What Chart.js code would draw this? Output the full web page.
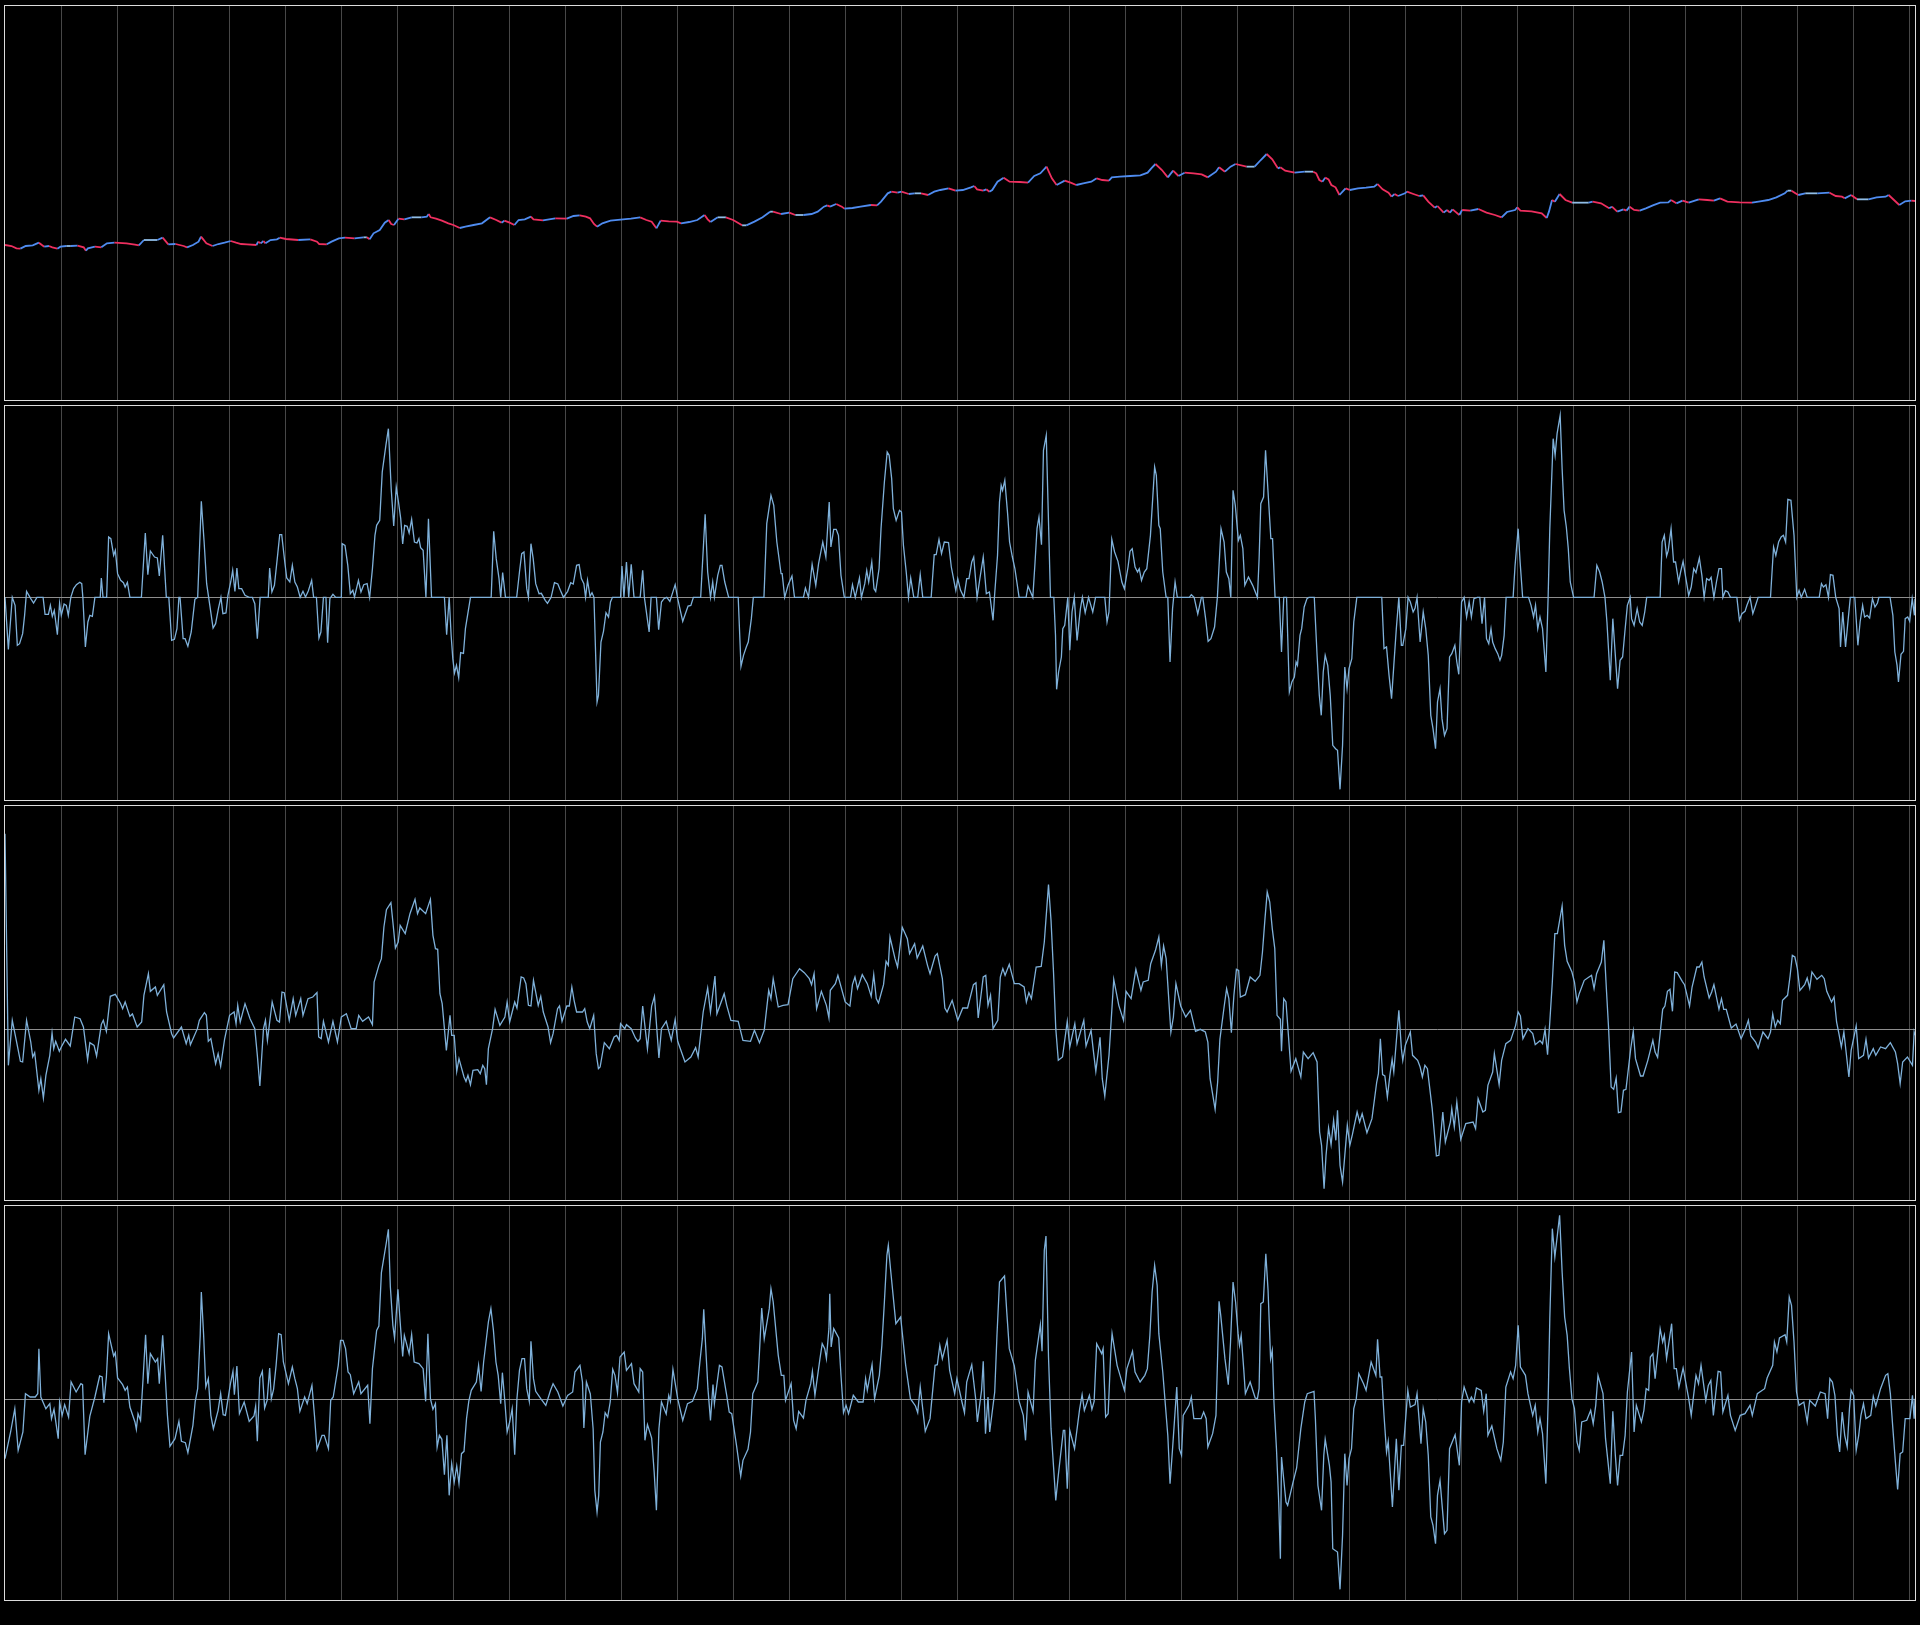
<!DOCTYPE html>
<html>
<head>
<meta charset="utf-8">
<script src="https://cdn.jsdelivr.net/npm/chart.js@4/dist/chart.umd.min.js"></script>
<style>
html,body{margin:0;padding:0;background:#000;width:1920px;height:1625px;overflow:hidden;font-family:"DejaVu Sans",sans-serif}
.panel{position:absolute;left:4px;width:1910px;height:394px;border:1px solid #dcdcdc;background:#000}
.panel canvas{display:block}
</style>
</head>
<body>
<div class="panel" style="top:5px"><canvas id="c1" width="1910" height="394" style="width:1910px;height:394px"></canvas></div>
<div class="panel" style="top:405px"><canvas id="c2" width="1910" height="394" style="width:1910px;height:394px"></canvas></div>
<div class="panel" style="top:805px"><canvas id="c3" width="1910" height="394" style="width:1910px;height:394px"></canvas></div>
<div class="panel" style="top:1205px"><canvas id="c4" width="1910" height="394" style="width:1910px;height:394px"></canvas></div>
<script>
// x = sample index (0..682), gridline every 20 samples
const SAMPLE_MAX = 682;
const GRID_STEP = 20;

// Panel 1: price line, [sample, value]
const priceSeries = [
[0,465],[2.3,462],[4.1,455],[5.5,454],[7.4,462],[9.9,464],[12.1,472],[14.0,460],[15.7,462],[16.9,458],[18.7,454],[19.8,460],[21.9,462],[23.5,462],[25.9,463],[28.1,458],[28.9,448],[29.6,455],[32.1,460],[34.4,458],[36.4,470],[39.1,472],[43.4,470],[46.4,466],[47.8,464],[49.6,480],[51.9,480],[54.4,480],[56.3,487],[58.3,467],[60.9,468],[63.8,462],[65.0,458],[67.1,465],[69.1,475],[70.0,490],[71.9,470],[74.1,462],[76.2,468],[78.4,472],[80.6,477],[82.5,472],[84.3,468],[86.4,467],[89.8,465],[90.4,475],[91.3,470],[92.3,477],[93.0,470],[94.8,480],[97.1,482],[98.1,487],[100.3,483],[104.7,480],[109.0,482],[111.4,475],[112.2,468],[114.9,467],[116.6,475],[119.2,485],[121.4,487],[124.8,485],[128.0,488],[129.2,488],[130.2,482],[131.6,500],[133.8,510],[135.6,532],[137.0,540],[137.9,528],[138.9,525],[140.5,544],[142.6,542],[145.2,548],[148.7,548],[150.6,550],[151.3,558],[152.0,548],[153.9,544],[156.0,538],[158.3,530],[160.1,525],[162.4,516],[164.4,520],[167.3,525],[170.3,530],[173.2,548],[175.4,540],[177.3,532],[178.3,538],[180.2,532],[181.9,525],[183.4,540],[185.6,542],[187.8,550],[188.7,542],[192.1,539],[196.5,545],[200.6,544],[203.0,552],[205.2,554],[207.4,550],[208.9,545],[210.3,528],[211.4,520],[213.3,530],[216.2,538],[219.8,541],[223.5,544],[226.8,548],
[229.0,540],[230.9,535],[232.6,515],[234.1,538],[237.0,536],[239.9,535],[241.4,530],[244.3,534],[247.2,540],[249.8,555],[250.9,542],[251.9,534],[254.5,548],[257.4,548],[260.0,540],[263.2,524],[264.7,524],[267.6,535],[270.5,548],[273.2,565],[274.2,565],[277.1,558],[280.0,562],[282.2,555],[285.1,555],[288.0,558],[290.2,565],[292.4,580],[293.6,584],[294.6,580],[296.8,588],[298.8,580],[299.7,574],[302.6,576],[305.5,580],[309.2,585],[311.4,584],[312.8,595],[315.2,620],[316.5,625],[318.7,622],[320.1,625],[322.7,618],[324.8,620],[327.1,620],[329.6,615],[331.8,625],[334.0,630],[336.9,635],[339.4,628],[342.0,630],[344.9,638],[346.1,642],[347.1,632],[349.3,628],[350.4,632],[351.5,625],[352.5,630],[354.4,655],[356.6,667],[358.7,655],[362.4,654],[365.3,652],[367.5,672],[369.7,680],[371.9,700],[373.8,665],[375.5,645],[378.4,658],[380.5,652],[382.5,645],[385.0,650],[387.9,655],[389.8,665],[391.8,660],[394.2,658],[395.2,668],[398.1,670],[401.8,672],[405.4,674],[408.0,682],[409.3,695],[410.8,708],[413.1,690],[415.2,668],[417.1,688],[419.0,672],[421.2,682],[424.4,680],[427.3,677],[429.5,668],[432.4,685],[433.5,698],[435.6,685],[437.6,700],[439.4,708],[443.3,700],[446.2,700],[448.4,720],[450.5,738],[452.5,722],[454.5,695],
[455.4,698],[457.1,688],[460.5,682],[464.1,685],[467.1,685],[468.2,680],[469.3,660],[470.4,655],[471.4,667],[472.6,662],[473.6,645],[475.1,638],[476.5,615],[477.6,625],[478.7,635],[480.2,630],[483.1,635],[486.0,637],[488.9,640],[490.1,648],[491.9,632],[494.0,622],[495.1,610],[496.2,618],[497.4,612],[499.9,620],[500.6,625],[502.9,618],[505.0,612],[506.4,614],[508.2,595],[510.5,577],[511.5,582],[513.7,562],[514.9,570],[515.9,562],[516.9,572],[519.3,555],[520.3,570],[523.2,568],[526.1,573],[529.0,562],[532.0,555],[534.4,548],[536.3,564],[539.2,570],[540.0,578],[541.1,568],[545.1,566],[548.7,560],[550.5,546],[551.3,565],[552.4,600],[553.4,595],[555.1,618],[557.2,600],[559.6,592],[562.6,592],[565.5,592],[566.9,595],[569.9,590],[572.8,575],[573.8,580],[575.7,565],[577.9,572],[579.0,568],[580.1,580],[581.7,570],[583.7,568],[585.9,575],[588.4,584],[591.0,592],[593.9,593],[594.9,600],[596.8,590],[599.0,598],[601.2,592],[603.4,598],[604.8,602],[607.8,600],[610.2,598],[612.4,605],[615.0,595],[619.4,593],[623.8,592],[626.7,596],[629.6,600],[632.5,608],[635.5,620],[636.5,628],[637.9,628],[640.3,615],[642.8,620],[647.1,620],[651.5,622],[653.7,612],[655.9,610],[656.9,605],[659.2,615],[661.3,602],[665.4,602],[668.3,608],[671.5,610],[672.6,615],[674.5,600],[676.4,585],[678.5,596],[680.7,598],[682.0,597]
];

// Panel 2: clipped momentum
const momentumSeries = [
[0,0],[1.2,-156],[2.6,0],[3.6,-24],[4.4,-144],[5.2,-139],[6.3,-109],[7.0,-54],[7.7,18],[9.2,-4],[10.2,-17],[11.4,0],[13.6,0],[14.3,-51],[15.5,-51],[16.2,-24],[16.9,-57],[17.6,-39],[18.7,-112],[19.5,-17],[20.1,-54],[21.1,-20],[21.9,-24],[22.6,-54],[23.5,0],[24.5,26],[25.5,38],[26.7,45],[27.4,41],[27.8,0],[28.7,-149],[29.6,-74],[30.3,-54],[31.2,-57],[32.1,0],[34.0,0],[34.4,58],[35.0,0],[36.3,0],[37.0,181],[37.8,176],[38.8,126],[39.4,141],[40.2,71],[41.3,51],[42.3,44],[42.9,31],[43.7,45],[44.6,0],[48.7,0],[50.1,193],[51.0,68],[51.9,139],[53.4,121],[54.4,118],[55.1,64],[56.3,186],[57.6,0],[58.5,0],[59.5,-129],[60.5,-126],[61.4,-94],[62.1,0],[62.5,0],[63.6,-124],[64.3,-124],[65.3,-147],[66.5,-104],[67.8,-6],[68.8,0],[70.1,288],[71.1,166],[72.0,41],[73.3,-34],[74.3,-92],[75.2,-79],[76.2,-34],[77.1,0],[77.8,-49],[78.9,-47],[79.6,6],[80.6,46],[81.3,81],[82.1,18],[82.8,88],[83.5,26],[84.5,26],[85.7,6],[87.2,0],[88.3,0],[89.2,-19],[90.1,-124],[91.1,0],[94.0,0],[94.5,88],[95.3,16],[96.2,36],[97.4,131],[98.1,188],[98.8,188],[99.9,106],[100.6,58],[101.7,46],[102.6,96],[103.5,46],[104.4,31],[105.4,0],[106.4,18],[107.3,1],[108.3,19],[109.5,51],[110.2,0],[111.2,0],[112.1,-122],[112.8,-104],[113.7,0],[114.6,0],[115.2,-136],[116.0,-4],[117.1,9],[118.1,0],[120.1,0],[120.4,161],[121.4,156],[122.4,96],[123.3,11],[124.2,21],[124.8,1],[126.2,51],[127.1,16],[128.1,38],[129.3,41],[130.2,0],[131.2,86],[132.1,186],[132.7,216],[133.8,231],[134.7,376],[136.0,456],[136.9,506],[137.9,326],[138.8,214],[139.7,331],[140.5,286],[141.3,236],[142.0,160],[142.7,216],[143.6,213],[144.3,193],[145.2,234],[146.2,166],[147.1,163],[147.8,176],[148.4,149],[149.3,141],[150.3,0],[151.2,236],[152.3,0],[156.9,0],[157.7,-112],[158.6,0],[159.3,-114],[159.9,-184],[160.5,-227],[161.2,-204],[162.0,-241],[162.7,-166],[163.7,-168],[164.4,-94],[166.2,0],[173.6,0],[174.5,198],[175.4,116],[176.4,56],[177.0,0],[177.7,74],[178.7,0],[182.7,0],[183.7,76],[184.5,131],[185.3,136],[186.3,26],[186.9,0],[187.8,161],[188.6,116],[189.5,41],[190.7,11],[191.5,12],[192.9,-9],[193.7,-18],[195.0,0],[196.2,44],[197.4,40],[198.3,21],[199.4,0],[200.9,18],[202.0,44],[202.9,40],[204.1,96],[205.0,98],[205.8,56],[206.7,41],[207.3,0],[208.0,51],[208.9,3],[209.6,14],[210.3,0],[211.4,-314],[211.9,-294],[212.8,-134],[213.7,-102],[214.6,-46],[215.5,-59],[216.2,-14],[216.9,0],[219.8,0],[220.3,94],[221.0,0],[221.9,106],[222.7,0],[223.6,99],[224.6,0],[226.8,0],
[227.7,81],[228.3,0],[230.0,-104],[230.7,0],[232.6,0],[233.4,-97],[234.4,-14],[235.3,-4],[236.3,0],[237.4,-12],[239.3,38],[240.2,-4],[242.0,-72],[243.9,-26],[244.9,-24],[245.8,0],[248.4,0],[250.0,249],[250.9,76],[251.9,0],[252.7,46],[253.3,0],[254.5,66],[255.4,96],[256.0,96],[257.0,46],[258.4,0],[261.8,0],[262.8,-207],[263.7,-174],[264.7,-149],[265.4,-134],[266.5,-64],[267.2,0],[271.0,0],[272.0,221],[273.5,306],[274.5,276],[275.6,166],[277.1,71],[277.5,71],[278.4,0],[279.6,36],[281.0,64],[281.9,0],[285.1,0],[285.8,28],[286.9,0],[288.2,99],[289.5,36],[290.5,101],[292.0,166],[293.1,121],[294.3,286],[294.9,151],[295.9,204],[296.8,204],[297.6,186],[298.5,66],[299.7,0],[301.9,0],[302.6,38],[303.6,0],[305.1,58],[305.8,0],[307.0,41],[307.7,81],[308.4,46],[309.5,106],[310.3,26],[310.9,18],[312.1,86],[312.8,206],[314.0,346],[315.0,436],[315.7,426],[316.6,356],[317.2,266],[318.2,231],[319.4,261],[320.1,256],[320.8,156],[321.8,76],[322.6,0],[323.4,58],[324.5,0],[325.9,0],[326.8,68],[327.7,0],[330.7,0],[331.8,128],[332.5,128],[333.5,174],[334.4,131],[335.4,166],[336.9,164],[337.9,91],[339.1,38],[339.5,21],[340.2,56],[341.2,21],[342.4,0],[343.4,56],[344.2,56],[345.2,106],[345.9,121],[347.1,0],[348.1,56],[349.3,121],[350.4,11],[351.5,16],[352.8,-69],[353.3,0],[354.4,126],[355.1,286],[355.7,336],[356.2,321],[357.0,351],[358.0,251],[358.7,166],[359.7,121],[360.6,86],[362.1,0],[364.6,0],[365.3,34],[367.0,0],[367.8,106],[368.5,206],[369.2,241],[370.1,158],[370.8,441],[371.8,486],[373.3,0],[374.5,0],[375.1,-114],[375.5,-276],[376.2,-224],[377.2,-179],[377.7,-94],[378.4,-84],[379.5,0],[380.2,-159],[381.0,-44],[381.8,0],[382.8,-129],[384.0,-34],[384.7,0],[385.7,-46],[386.9,0],[388.4,-44],[389.4,0],[392.7,0],[393.5,-74],[394.2,-44],[395.2,174],[396.2,136],[397.4,108],[398.8,46],[399.7,26],[401.0,91],[401.7,138],[402.5,146],[403.5,91],[404.4,76],[405.0,86],[405.8,51],[406.8,76],[407.7,86],[409.0,186],[410.5,391],[411.1,366],[412.0,216],[412.5,206],[413.4,76],[414.6,0],[415.2,0],[416.0,-194],[416.9,-34],[417.8,46],[418.6,0],[422.9,0],[423.6,8],[424.6,0],[425.9,-50],[427.2,0],[427.7,0],[428.7,-64],[429.6,-132],[430.6,-124],[431.9,-89],[432.9,0],[434.2,206],[435.3,166],[436.1,76],[437.0,56],[437.7,0],[438.5,321],[439.3,276],[440.4,171],[441.1,186],[442.0,146],[442.7,36],[444.0,61],[445.5,36],[447.2,0],[447.8,116],[448.4,281],[449.4,301],[450.1,441],[452.0,176],[452.6,176],[453.5,0],[455.0,0],
[455.8,-164],[456.6,0],[457.6,0],[458.6,-284],[459.5,-254],[460.4,-239],[461.0,-194],[461.5,-204],[462.4,-114],[463.0,-94],[463.9,-29],[464.9,-4],[465.6,0],[467.5,0],[468.5,-174],[469.3,-294],[470.0,-354],[470.7,-224],[471.4,-174],[472.3,-204],[473.2,-294],[474.1,-444],[475.1,-454],[475.8,-459],[476.7,-576],[477.6,-444],[478.4,-209],[479.2,-274],[479.9,-214],[480.9,-184],[481.6,-74],[482.7,0],[491.6,0],[492.4,-154],[493.3,-149],[494.2,-234],[495.1,-304],[495.9,-204],[496.8,-94],[497.7,0],[498.6,-144],[499.1,-144],[500.2,-94],[501.0,0],[501.8,-14],[502.8,-44],[503.5,-32],[504.2,0],[505.3,-134],[506.4,-44],[507.3,-94],[508.2,-174],[509.1,-354],[509.9,-394],[510.8,-454],[511.5,-314],[512.4,-274],[513.1,-364],[514.0,-414],[514.9,-394],[515.8,-179],[516.6,-169],[517.7,-144],[518.4,-194],[519.1,-231],[520.1,-14],[521.0,0],[521.9,-59],[522.8,-14],[523.6,-59],[524.5,-4],[525.7,0],[526.6,0],[527.4,-79],[528.3,0],[529.0,-124],[529.8,-139],[530.6,-94],[531.2,-134],[532.1,-154],[533.0,-169],[533.8,-189],[534.4,-174],[535.3,-114],[536.0,0],[538.5,0],[539.2,96],[540.3,206],[541.0,106],[541.9,0],[544.0,0],[544.9,-24],[545.8,-59],[546.5,-24],[547.3,-94],[548.1,-59],[549.0,-94],[550.2,-224],[551.0,0],[551.6,206],[552.8,476],[553.5,426],[554.2,491],[555.3,546],[556.0,386],[556.7,261],[557.5,211],[558.2,146],[558.9,46],[560.1,0],[567.4,0],[568.4,96],[569.4,76],[570.3,46],[571.3,0],[572.0,-74],[573.2,-249],[574.1,-64],[575.0,-174],[575.8,-274],[576.7,-189],[577.6,-179],[578.4,-104],[579.3,-24],[580.3,0],[580.8,-64],[581.7,-84],[582.8,-34],[583.7,-74],[584.6,-84],[585.5,-44],[586.2,0],[591.0,0],[591.7,166],[592.5,186],[593.3,124],[593.9,141],[594.9,206],[595.8,106],[596.5,106],[597.6,46],[598.3,76],[599.2,108],[600.2,56],[601.2,6],[602.1,31],[603.0,86],[603.8,74],[605.0,118],[605.9,66],[606.7,0],[607.6,56],[608.5,51],[609.2,60],[610.2,0],[611.1,46],[612.0,86],[612.9,86],[613.4,0],[614.3,20],[615.2,16],[616.1,0],[618.4,0],[619.3,-69],[620.2,-49],[621.3,-42],[622.0,-24],[623.1,0],[624.1,-49],[625.0,-26],[626.0,0],[630.4,0],[631.5,151],[632.3,126],[633.3,166],[634.2,181],[635.0,186],[635.8,166],[636.6,294],[637.7,291],[638.8,186],[639.8,0],[640.6,21],[641.4,0],[642.6,24],[643.5,0],[647.8,0],[648.6,41],[649.3,31],[650.2,38],[651.1,0],[651.8,68],[652.7,66],[653.7,0],[654.9,-34],[655.4,-149],[656.2,-44],[657.2,-149],[658.1,-69],[658.9,0],[660.5,0],[661.6,-144],[662.4,-74],[663.3,-24],[664.0,-59],[664.9,-54],[665.8,-62],[666.8,-4],[667.7,-29],[668.6,-17],[669.1,0],[673.1,0],[674.1,-54],[674.8,-164],[675.6,-204],[676.1,-254],[677.0,-171],[677.9,-162],[678.5,-64],[679.4,-59],[680.1,-72],[681.0,-4],[681.8,-54],[682.0,-4]
];

// Panel 3: smoothed oscillator
const oscillatorSeries = [
[0,587],[1.2,-108],[2.6,27],[4.1,-36],[5.5,-96],[6.3,-98],[7.7,27],[9.2,-38],[9.9,-83],[10.6,-70],[12.1,-183],[12.8,-148],[13.7,-206],[14.6,-138],[16.0,-78],[16.8,-11],[17.4,-58],[18.1,-36],[19.4,-66],[20.1,-53],[21.6,-30],[23.3,-50],[24.9,37],[26.8,32],[28.0,7],[29.5,-91],[30.3,-40],[31.8,-48],[32.7,-80],[34.4,15],[35.1,27],[36.2,-6],[37.6,99],[39.4,105],[41.3,77],[42.0,62],[42.9,82],[44.6,39],[45.5,46],[47.2,7],[48.8,22],[49.6,102],[51.2,167],[51.9,114],[53.7,127],[54.4,102],[56.7,134],[57.7,52],[59.5,-13],[60.2,-26],[63.0,7],[64.7,-43],[65.6,-18],[66.2,-46],[68.7,2],[69.4,27],[71.2,50],[71.9,42],[72.6,-36],[73.5,-28],[75.2,-103],[76.1,-73],[77.0,-111],[78.4,-30],[80.2,42],[81.8,52],[82.5,17],[83.1,72],[84.0,22],[85.7,77],[87.5,32],[89.2,2],[90.1,-78],[91.0,-170],[92.3,2],[93.0,27],[93.7,-33],[95.4,82],[97.1,27],[98.0,22],[98.9,112],[99.7,110],[101.5,27],[102.9,92],[103.8,42],[105.6,92],[106.4,42],[108.2,92],[109.9,97],[111.4,110],[112.0,-23],[112.9,-28],[113.7,24],[115.5,-38],[117.1,24],[118.7,-38],[120.1,37],[121.9,47],[123.6,2],[125.4,2],[126.3,42],[127.7,24],[129.8,37],[131.2,14],[131.8,142],[133.5,192],[134.4,212],[135.3,307],[136.2,359],[137.8,380],[138.5,322],[139.4,244],[140.4,262],[141.1,312],[142.9,287],[144.6,347],[146.4,390],[147.3,347],[148.1,364],[150.2,347],[151.9,390],[152.8,282],[153.7,242],[154.5,240],[155.3,107],[156.1,77],[157.6,-63],[158.9,42],[159.5,-18],[160.4,-18],[161.3,-126],[162.1,-88],[163.9,-143],[164.6,-156],[165.3,-138],[166.2,-166],[167.1,-123],[168.8,-121],[169.7,-133],[170.6,-108],[171.3,-118],[171.9,-166],[172.6,-58],[174.1,2],[175.0,60],[176.7,12],[178.5,37],[179.3,82],[180.2,22],[182.0,82],[182.8,64],[183.4,102],[184.3,157],[185.2,154],[186.0,137],[186.9,72],[187.8,70],[188.7,147],[190.4,72],[191.3,99],[192.2,52],[193.9,7],[194.8,-40],[195.7,-13],[197.3,62],[198.0,70],[198.9,24],[200.6,70],[201.5,70],[202.4,127],[203.2,87],[204.1,52],[206.2,52],[207.0,62],[207.9,22],[208.8,2],[210.2,42],[211.1,-73],[211.9,-118],[212.5,-113],[214.0,-40],[215.8,-58],[217.5,-23],[218.4,-18],[219.3,-33],[219.8,17],[221.3,2],[221.9,14],[223.6,2],[225.1,-26],[226.0,-36],[226.8,-28],
[227.7,70],[229.4,-58],[230.9,70],[231.9,99],[233.5,-86],[234.4,2],[236.1,24],[237.9,-33],[239.3,30],[240.2,-36],[242.8,-98],[244.9,-83],[246.6,-55],[247.5,-83],[249.3,52],[250.9,124],[251.9,52],[253.5,160],[254.2,47],[256.8,107],[257.7,72],[259.2,27],[261.8,24],[263.5,-33],[266.2,-36],[267.6,-3],[269.4,-40],[271.1,-3],[272.7,117],[273.5,92],[274.3,152],[276.1,67],[277.8,72],[279.6,74],[281.3,152],[283.7,182],[285.4,170],[287.2,152],[288.0,134],[288.9,167],[289.8,62],[291.5,114],[293.3,72],[294.2,34],[294.7,117],[296.5,137],[297.4,162],[300.0,82],[301.7,70],[302.6,134],[303.5,157],[304.4,122],[306.1,164],[307.9,137],[309.3,99],[310.2,164],[311.1,92],[311.9,79],[313.7,134],[314.6,204],[315.4,192],[316.0,277],[317.8,212],[318.7,187],[320.4,306],[322.2,272],[323.0,227],[324.8,257],[325.7,214],[327.7,250],[329.4,192],[330.3,167],[332.1,220],[332.9,227],[334.7,152],[335.6,64],[336.4,52],[338.2,87],[340.2,27],[342.0,64],[343.7,64],[345.8,134],[346.7,140],[347.5,34],[349.3,157],[350.2,162],[351.0,72],[351.9,102],[352.8,2],[354.5,27],[355.4,157],[356.3,182],[357.1,162],[358.6,195],[360.4,137],[362.1,137],[363.9,127],[364.7,82],[365.6,110],[366.5,92],[368.2,187],[370.0,189],[371.1,262],[372.6,434],[373.5,327],[374.4,170],[375.2,2],[376.1,-93],[377.6,-83],[379.3,24],[380.2,-53],[382.0,17],[382.8,-43],[385.2,27],[386.0,-50],[387.8,-3],[388.6,-63],[389.5,-126],[391.0,-24],[391.8,-148],[392.7,-200],[394.2,-78],[395.9,150],[397.7,72],[399.4,27],[400.3,114],[402.1,92],[403.8,180],[405.6,117],[406.4,142],[408.2,147],[409.1,197],[410.8,237],[412.0,277],[412.9,192],[413.7,250],[414.6,212],[416.3,-8],[417.2,37],[418.1,137],[419.8,70],[421.6,37],[423.3,57],[425.1,-6],[426.8,0],[428.6,-8],[429.5,-38],[430.3,-148],[432.1,-240],[433.0,-158],[433.8,-30],[435.3,67],[436.2,122],[437.0,92],[437.9,-10],[438.8,102],[439.7,180],[440.5,177],[441.1,97],[442.9,104],[444.6,157],[446.4,144],[448.1,162],[449.0,232],[449.9,332],[450.7,412],[451.6,382],[452.5,302],[453.4,242],[454.2,42],[455.4,30],
[455.8,-66],[456.6,92],[457.4,82],[459.2,-126],[460.9,-88],[462.7,-143],[463.6,-68],[465.3,-88],[467.1,-70],[468.5,-98],[469.4,-308],[470.1,-348],[471.0,-478],[471.7,-378],[472.6,-296],[473.5,-346],[474.4,-273],[475.2,-333],[475.8,-243],[476.7,-408],[477.6,-458],[478.4,-378],[479.3,-288],[480.2,-348],[481.1,-316],[482.8,-248],[483.7,-278],[484.6,-253],[486.3,-310],[488.1,-268],[489.8,-158],[490.4,-133],[491.1,-28],[491.9,-136],[492.7,-140],[493.6,-203],[494.5,-138],[495.3,-90],[495.9,-128],[497.7,57],[498.6,-58],[499.1,-93],[500.0,-48],[501.8,-8],[502.6,-78],[504.4,-93],[505.3,-113],[506.1,-143],[507.0,-108],[507.9,-118],[509.6,-238],[511.1,-380],[512.0,-378],[513.4,-248],[514.3,-338],[516.1,-278],[516.6,-238],[517.5,-293],[518.4,-218],[519.8,-330],[521.6,-283],[524.2,-278],[525.1,-298],[526.0,-208],[527.7,-248],[528.6,-243],[529.5,-168],[531.2,-128],[531.8,-73],[533.5,-166],[534.4,-93],[535.9,-43],[537.6,-33],[539.4,12],[540.3,52],[541.1,40],[542.0,-28],[543.8,2],[545.5,-13],[546.4,-46],[548.1,-34],[549.0,-43],[549.9,0],[550.8,-76],[551.6,22],[552.5,142],[553.4,287],[554.3,287],[556.0,370],[556.9,252],[557.8,204],[559.5,172],[560.4,142],[561.3,82],[562.1,107],[563.9,147],[565.6,157],[566.5,162],[567.4,122],[568.3,167],[570.0,202],[570.9,267],[571.8,122],[572.6,2],[573.5,-173],[574.4,-180],[575.3,-146],[576.1,-250],[577.0,-248],[577.9,-183],[578.8,-180],[580.5,-58],[581.4,-6],[582.2,-88],[584.0,-140],[584.9,-140],[586.6,-93],[588.4,-33],[589.2,-68],[590.1,-84],[591.9,60],[592.7,70],[593.6,114],[594.5,120],[595.4,54],[596.2,172],[597.1,170],[598.9,144],[599.7,134],[601.5,70],[602.4,127],[604.1,187],[605.0,187],[605.9,202],[606.7,157],[608.5,94],[609.4,112],[610.2,134],[612.0,60],[612.9,92],[613.7,60],[614.6,60],[616.4,4],[618.1,16],[619.9,-28],[621.6,4],[622.5,27],[623.4,-20],[625.1,-38],[626.0,-56],[627.7,-8],[629.5,-28],[630.4,-8],[631.2,46],[632.1,7],[633.0,27],[633.9,17],[634.7,87],[636.5,102],[637.4,160],[638.2,222],[639.1,217],[640.0,182],[640.9,117],[642.6,134],[643.5,154],[644.4,124],[645.2,172],[647.0,150],[648.7,162],[649.6,152],[650.5,114],[652.2,82],[653.1,97],[654.0,22],[654.9,-16],[655.7,-53],[656.6,-8],[658.4,-143],[659.2,-63],[661.0,10],[661.9,-88],[663.6,-78],[664.5,-30],[665.4,-86],[667.1,-58],[668.0,-78],[669.7,-53],[671.5,-58],[673.2,-40],[675.0,-68],[675.8,-103],[676.7,-163],[677.6,-98],[679.3,-83],[681.1,-108],[681.7,-8],[682.0,-18]
];

// Panel 4: raw momentum
const signalSeries = [
[0,-178],[2.0,-98],[3.5,-28],[4.7,-153],[6.4,-98],[7.3,17],[9.0,7],[10.8,7],[11.7,17],[12.1,152],[12.8,7],[14.6,-28],[16.0,-13],[16.6,-58],[17.5,-30],[19.0,-118],[19.5,-8],[20.4,-48],[21.3,-16],[22.7,-53],[23.6,52],[25.4,22],[27.1,47],[27.7,44],[28.6,-166],[30.3,-50],[32.1,7],[33.8,70],[34.7,67],[35.3,-10],[36.2,67],[37.0,197],[38.8,130],[39.4,140],[40.2,64],[42.0,44],[42.9,27],[43.7,37],[44.6,-23],[46.4,-68],[46.9,-90],[47.5,-43],[48.4,-63],[49.3,62],[50.2,194],[51.0,47],[51.9,137],[53.7,112],[54.5,122],[55.1,47],[56.3,192],[57.2,72],[58.0,-48],[58.9,-141],[60.7,-118],[62.1,-66],[63.0,-126],[64.4,-130],[65.3,-160],[67.1,-78],[67.9,-8],[68.8,32],[69.7,192],[70.1,322],[70.9,197],[71.7,37],[72.6,62],[73.5,-48],[74.4,-88],[76.1,-33],[77.0,17],[77.9,-46],[78.7,-48],[80.5,47],[81.4,84],[81.9,14],[82.8,100],[83.7,-43],[85.4,-8],[87.2,-66],[88.9,-50],[89.5,-20],[90.1,-126],[91.0,64],[91.9,84],[92.7,-26],[93.6,-3],[94.5,94],[95.1,2],[95.9,30],[96.8,102],[97.7,197],[98.6,194],[99.4,112],[101.2,47],[102.6,97],[103.5,62],[104.4,32],[105.3,-36],[107.0,7],[107.9,-13],[109.6,42],[110.5,-48],[111.4,-150],[113.2,-108],[114.0,-108],[115.5,-148],[116.3,-3],[117.2,7],[119.0,102],[119.8,177],[120.7,177],[121.6,152],[122.5,82],[123.3,74],[124.5,17],[126.3,52],[127.1,17],[129.5,42],[130.3,-73],[131.2,92],[132.7,207],[133.5,220],[134.4,380],[136.2,472],[136.9,510],[137.6,337],[138.5,222],[139.1,184],[140.3,330],[141.1,232],[142.0,129],[142.6,192],[144.3,137],[145.2,194],[146.1,112],[147.8,107],[149.3,92],[150.2,-6],[151.0,197],[151.9,2],[152.8,-30],[153.7,-13],[154.3,-143],[155.1,-108],[156.0,-120],[156.9,-226],[157.8,-108],[158.6,-288],[159.5,-193],[160.4,-248],[161.3,-200],[162.1,-253],[163.0,-163],[163.9,-156],[164.8,-58],[165.6,-6],[166.5,27],[168.3,52],[169.1,102],[170.0,24],[170.9,112],[172.6,232],[173.5,272],[174.4,207],[175.3,112],[176.1,72],[177.0,-13],[177.6,80],[178.5,-8],[179.3,-98],[180.2,-68],[181.1,-28],[182.0,-166],[182.8,2],[183.7,87],[184.6,122],[185.5,122],[186.3,32],[187.2,-6],[187.8,174],[188.7,62],[189.5,24],[191.3,2],[193.1,-18],[194.8,27],[195.7,47],[197.4,22],[199.2,-20],[200.9,12],[202.7,22],[203.5,82],[205.3,102],[206.2,52],[206.7,-86],[207.6,52],[209.0,16],[210.0,-88],[210.6,-273],[211.4,-338],[212.0,-288],[212.6,-128],[213.5,-98],[214.3,-40],[215.2,-53],[216.1,-8],[217.0,90],[217.8,72],[218.7,20],[219.6,127],[221.1,142],[221.9,87],[223.7,107],[224.6,47],[226.3,22],[226.8,92],
[227.7,82],[228.5,-123],[229.4,-76],[230.9,-116],[231.8,-218],[232.6,-333],[233.5,-88],[234.4,-8],[236.1,-44],[237.0,12],[237.6,-6],[238.5,90],[240.2,2],[242.0,-63],[243.7,-13],[245.5,-6],[247.2,32],[248.1,110],[249.0,182],[249.5,270],[250.1,172],[251.0,32],[251.9,-63],[252.8,44],[253.3,-13],[255.1,102],[256.0,97],[257.7,12],[258.6,-38],[259.5,-43],[261.2,-138],[262.7,-230],[263.5,-183],[265.3,-150],[266.2,-98],[267.0,17],[268.8,52],[269.4,142],[270.2,274],[271.1,182],[272.9,272],[273.5,332],[274.3,292],[276.1,132],[277.2,72],[278.1,72],[278.7,-3],[280.7,47],[281.6,-63],[282.5,-88],[283.4,-36],[285.1,-56],[286.0,-3],[287.7,47],[288.3,84],[289.2,12],[291.0,122],[291.8,167],[292.7,152],[293.3,122],[294.2,212],[294.5,317],[295.0,157],[295.9,212],[297.7,184],[298.5,72],[299.4,-40],[300.3,-18],[301.2,-43],[302.9,12],[304.7,-8],[306.4,-8],[307.3,62],[307.9,27],[309.6,104],[310.5,2],[312.2,72],[313.1,162],[314.0,292],[314.9,432],[315.4,462],[316.3,382],[318.1,227],[319.8,247],[321.6,102],[323.3,2],[325.1,-20],[325.9,-40],[326.8,37],[328.6,-96],[330.3,-58],[332.1,102],[332.9,104],[333.8,162],[334.7,122],[336.4,177],[337.3,87],[339.1,17],[339.9,62],[341.7,-8],[342.6,-40],[343.4,52],[345.2,104],[346.7,-6],[347.2,-68],[348.7,27],[349.3,114],[350.1,-103],[351.0,7],[351.6,-98],[353.4,22],[354.2,192],[355.1,352],[356.9,370],[357.7,262],[358.6,152],[360.4,100],[362.1,-6],[363.6,-48],[364.4,-123],[365.3,22],[367.1,-36],[367.9,117],[369.7,224],[370.3,144],[371.1,447],[371.7,490],[372.6,127],[373.5,-88],[375.2,-303],[376.1,-228],[377.9,-93],[378.4,-93],[379.3,-268],[380.2,-93],[381.9,-148],[383.7,-30],[384.6,14],[385.4,-33],[387.2,12],[388.1,-30],[388.9,-6],[389.8,167],[391.6,137],[392.1,152],[393.0,-53],[393.9,-43],[394.8,134],[395.3,197],[397.1,102],[399.7,27],[400.6,92],[402.6,144],[403.5,82],[405.3,52],[407.0,72],[407.9,92],[408.8,192],[409.6,322],[410.5,402],[411.4,342],[412.0,197],[413.4,82],[415.2,-108],[416.0,-253],[416.9,-148],[418.4,37],[419.3,-148],[420.1,-168],[420.7,-48],[422.8,-18],[423.6,7],[424.5,-58],[427.1,-58],[428.0,-38],[428.9,-58],[429.5,-143],[431.2,-103],[432.4,-48],[433.0,132],[433.5,294],[434.1,252],[435.6,122],[436.8,44],[437.6,172],[438.5,352],[439.4,292],[440.3,197],[440.8,162],[441.4,192],[442.3,92],[442.9,17],[444.6,52],[446.4,4],[447.2,2],[447.8,32],[448.4,287],[449.3,292],[450.2,437],[451.0,327],[451.9,122],[452.5,147],[453.1,-8],[454.0,-148],[454.8,-308],[455.4,-478],
[455.8,-173],[457.4,-308],[458.0,-318],[459.8,-253],[461.2,-206],[462.7,-88],[464.1,-8],[465.0,17],[467.4,24],[467.9,-58],[468.8,-258],[470.1,-333],[470.9,-168],[471.4,-120],[472.9,-198],[473.5,-248],[474.1,-448],[475.8,-458],[476.7,-570],[477.6,-408],[478.4,-163],[479.2,-258],[479.9,-178],[480.8,-148],[481.6,-28],[482.5,2],[483.4,77],[485.1,47],[486.0,27],[487.8,112],[489.5,72],[490.1,180],[491.0,67],[491.6,67],[492.4,-48],[493.3,-158],[493.9,-126],[495.4,-323],[496.8,-118],[497.7,-273],[498.6,-138],[499.4,-138],[500.9,27],[501.8,-23],[503.5,-16],[504.2,17],[505.6,-133],[506.4,-28],[507.3,-68],[508.2,-168],[509.1,-353],[509.9,-378],[510.8,-433],[511.5,-288],[512.4,-243],[514.0,-403],[514.9,-393],[515.8,-148],[517.8,-106],[519.3,-198],[520.1,-8],[521.0,37],[522.8,-8],[523.6,7],[524.5,-8],[525.4,34],[527.1,27],[528.0,-36],[528.9,17],[529.5,-108],[530.9,-80],[532.7,-148],[534.1,-183],[535.0,-128],[535.9,37],[537.6,82],[538.5,62],[539.4,102],[540.3,222],[541.1,97],[542.9,72],[543.8,17],[545.5,-48],[546.4,-18],[547.3,-98],[548.1,-58],[549.0,-103],[550.2,-253],[551.0,-8],[551.6,242],[552.5,512],[553.4,427],[555.1,552],[556.0,382],[556.9,247],[557.8,192],[558.6,92],[559.5,2],[560.4,-28],[561.3,-128],[562.1,-153],[563.0,-68],[564.8,-63],[566.2,-33],[567.1,-73],[568.0,-18],[568.8,72],[570.6,17],[571.5,-118],[573.2,-253],[574.1,-36],[575.0,-168],[575.8,-258],[576.7,-168],[577.6,-168],[578.5,-108],[579.3,22],[580.8,142],[581.7,-98],[582.5,-18],[584.3,-68],[585.2,-33],[586.0,32],[586.9,27],[587.5,127],[588.4,137],[589.2,62],[591.0,212],[591.9,172],[592.5,192],[593.3,122],[595.1,227],[596.0,92],[596.8,92],[597.7,37],[599.2,94],[601.2,2],[602.1,-48],[603.8,72],[604.7,47],[605.6,102],[607.3,-3],[608.2,42],[609.1,57],[610.0,-48],[611.7,84],[612.6,82],[613.4,-38],[615.2,12],[616.1,-48],[617.8,-93],[619.6,-48],[621.3,-43],[623.1,-18],[623.9,-48],[625.7,17],[628.3,32],[629.2,64],[631.2,102],[631.8,172],[632.7,142],[633.6,184],[635.6,194],[636.2,172],[637.1,307],[637.9,282],[638.8,172],[639.7,22],[640.6,-18],[642.3,-8],[643.5,-68],[644.4,-3],[646.4,-20],[648.2,22],[649.9,17],[650.8,-58],[651.6,62],[652.5,52],[653.4,12],[654.3,-108],[655.1,-158],[656.0,-38],[656.9,-108],[657.8,-143],[658.6,-28],[659.2,27],[660.1,12],[661.0,-153],[661.9,-108],[662.7,-48],[663.6,-13],[664.5,-58],[666.2,-48],[667.1,9],[668.0,-20],[669.7,32],[671.5,72],[672.3,77],[673.2,17],[674.1,-88],[675.0,-188],[675.8,-270],[676.7,-163],[677.6,-158],[678.5,-58],[680.2,-58],[681.1,12],[681.7,-58],[682.0,2]
];

const COLOR_LINE = '#7fb1da';
const COLOR_UP = '#4f8cf0';
const COLOR_DOWN = '#ee2f5f';
const COLOR_FLAT = '#90bde6';
const COLOR_GRID = '#474747';
const COLOR_ZERO = '#8e8e8e';

const panels = [
  {id:'c1', series: priceSeries, min: 0, max: 1182, zero: false, price: true},
  {id:'c2', series: momentumSeries, min: -608, max: 574, zero: true},
  {id:'c3', series: oscillatorSeries, min: -512, max: 670, zero: true},
  {id:'c4', series: signalSeries, min: -602, max: 580, zero: true}
];

panels.forEach(p => {
  const ds = {
    data: p.series.map(([x, y]) => ({x, y})),
    borderColor: p.price ? COLOR_FLAT : COLOR_LINE,
    borderWidth: p.price ? 1.8 : 1.3,
    pointRadius: 0,
    pointHoverRadius: 0,
    tension: 0,
    fill: false
  };
  if (p.price) {
    ds.segment = {
      borderColor: c => c.p1.parsed.y > c.p0.parsed.y ? COLOR_UP : (c.p1.parsed.y < c.p0.parsed.y ? COLOR_DOWN : COLOR_FLAT)
    };
  }
  new Chart(document.getElementById(p.id), {
    type: 'line',
    data: {datasets: [ds]},
    options: {
      responsive: false,
      maintainAspectRatio: false,
      devicePixelRatio: 1,
      animation: false,
      events: [],
      layout: {padding: 0, autoPadding: false},
      plugins: {legend: {display: false}, tooltip: {enabled: false}, title: {display: false}},
      scales: {
        x: {
          type: 'linear', min: 0, max: SAMPLE_MAX,
          border: {display: false},
          ticks: {display: false, stepSize: GRID_STEP, includeBounds: false},
          grid: {drawTicks: false, lineWidth: 1,
            color: c => (c.tick && c.tick.value === 0) ? 'rgba(0,0,0,0)' : COLOR_GRID}
        },
        y: {
          type: 'linear', min: p.min, max: p.max,
          border: {display: false},
          ticks: {display: false},
          grid: {drawTicks: false, lineWidth: 1,
            color: c => (p.zero && c.tick && c.tick.value === 0) ? COLOR_ZERO : 'rgba(0,0,0,0)'}
        }
      }
    }
  });
});
</script>
</body>
</html>
